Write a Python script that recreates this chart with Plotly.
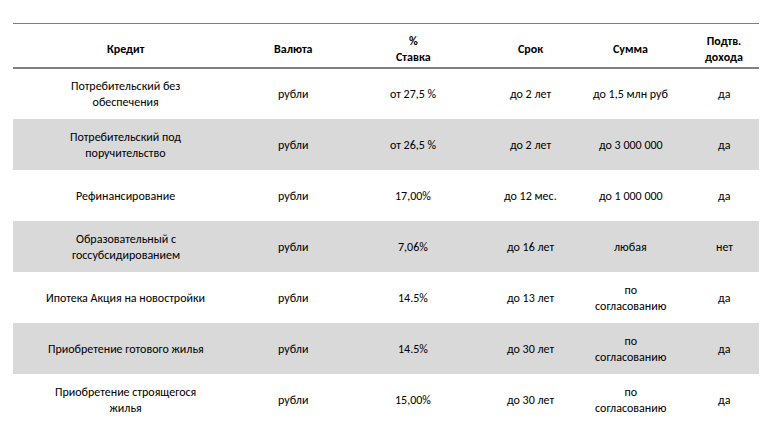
import plotly.graph_objects as go

headers = ["<b>Кредит</b>", "<b>Валюта</b>", "<b>%<br>Ставка</b>", "<b>Срок</b>", "<b>Сумма</b>", "<b>Подтв.<br>дохода</b>"]
credit = ["Потребительский без<br>обеспечения", "Потребительский под<br>поручительство", "Рефинансирование",
          "Образовательный с<br>госсубсидированием", "Ипотека Акция на новостройки",
          "Приобретение готового жилья", "Приобретение строящегося<br>жилья"]
currency = ["рубли"] * 7
rate = ["от 27,5 %", "от 26,5 %", "17,00%", "7,06%", "14.5%", "14.5%", "15,00%"]
term = ["до 2 лет", "до 2 лет", "до 12 мес.", "до 16 лет", "до 13 лет", "до 30 лет", "до 30 лет"]
amount = ["до 1,5 млн руб", "до 3 000 000", "до 1 000 000", "любая", "по<br>согласованию",
          "по<br>согласованию", "по<br>согласованию"]
income = ["да", "да", "да", "нет", "да", "да", "да"]

col_widths = [225, 110, 130, 105, 95, 92]
header_h, row_h = 45, 51
total_w = sum(col_widths)
total_h = header_h + row_h * len(credit)

centers = []
acc = 0
for w in col_widths:
    centers.append(acc + w / 2)
    acc += w
row_centers = [header_h + row_h * (i + 0.5) for i in range(len(credit))]
fills = ["rgba(0,0,0,0)" if i % 2 == 0 else "#d9d9d9" for i in range(len(credit))]

fig = go.Figure(go.Bar(x=[total_w] * len(credit), y=row_centers, base=0, orientation="h",
                       width=row_h, marker=dict(color=fills, line=dict(width=0)), hoverinfo="skip"))

font = dict(family="Calibri, Open Sans", size=12, color="black")
for c, h in zip(centers, headers):
    fig.add_annotation(x=c, y=header_h / 2 + 3, text=h, showarrow=False, font=font, xref="x", yref="y")
for col, c in zip([credit, currency, rate, term, amount, income], centers):
    for v, rc in zip(col, row_centers):
        fig.add_annotation(x=c, y=rc, text=v, showarrow=False, font=font, xref="x", yref="y")

for yv in [0, header_h]:
    fig.add_shape(type="line", xref="x", yref="y", x0=0, x1=total_w, y0=yv, y1=yv,
                  line=dict(color="black", width=1))

fig.update_layout(width=767, height=438, margin=dict(l=5, r=5, t=15, b=21),
                  paper_bgcolor="white", plot_bgcolor="white", showlegend=False,
                  xaxis=dict(range=[0, total_w], visible=False, fixedrange=True),
                  yaxis=dict(range=[total_h, 0], visible=False, fixedrange=True), bargap=0)
fig.write_html("out.html")
